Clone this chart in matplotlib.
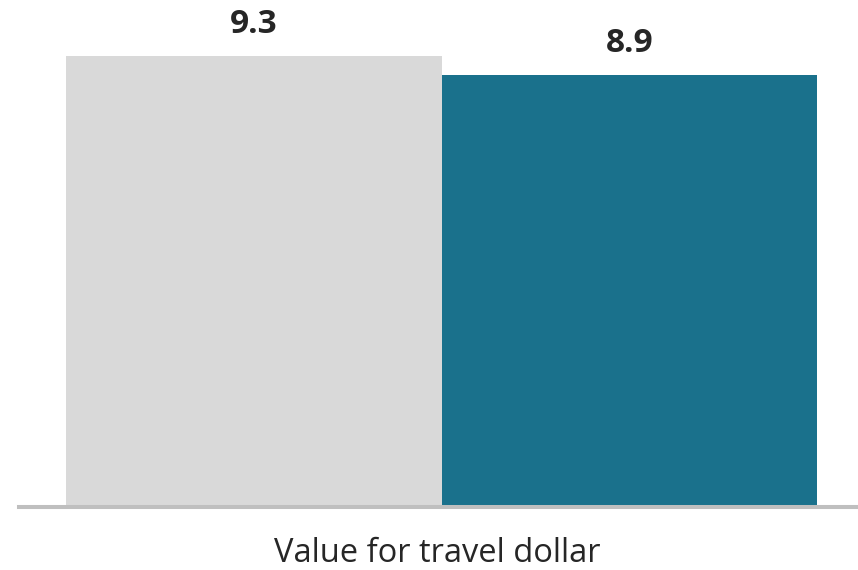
import matplotlib
matplotlib.use("Agg")
import matplotlib.pyplot as plt
from matplotlib.transforms import blended_transform_factory

categories = ["Group A", "Group B"]
values = [9.3, 8.9]
colors = ["#D9D9D9", "#1A718C"]
axis_title = "Value for travel dollar"

plt.rcParams["font.family"] = ["Open Sans", "DejaVu Sans"]

W, H, DPI = 858, 570, 100
fig = plt.figure(figsize=(W / DPI, H / DPI), dpi=DPI)
ax = fig.add_axes([19 / W, 63 / H, 1 - 19 / W, 507 / H])

x = list(range(len(values)))
ax.bar(x, values, width=1.0, color=colors, zorder=1)

ax.set_xlim(-0.625, 1.609)
ax.set_ylim(0, 10.45)

for xi, v in zip(x, values):
    ax.annotate(f"{v:.1f}", (xi, v), xytext=(0, 16.5), textcoords="offset points",
                ha="center", va="baseline", fontsize=24, fontweight="bold",
                color="#262626")

for side in ["top", "left", "right"]:
    ax.spines[side].set_visible(False)
ax.spines["bottom"].set_color("#BFBFBF")
ax.spines["bottom"].set_linewidth(2.9)
ax.spines["bottom"].set_zorder(3)
ax.set_xticks([])
ax.set_yticks([])

trans = blended_transform_factory(ax.transData, fig.transFigure)
fig.text(0.49, 8 / H, axis_title, transform=trans, ha="center", va="baseline",
         fontsize=23.5, color="#262626")

fig.savefig("out.png", dpi=DPI)
